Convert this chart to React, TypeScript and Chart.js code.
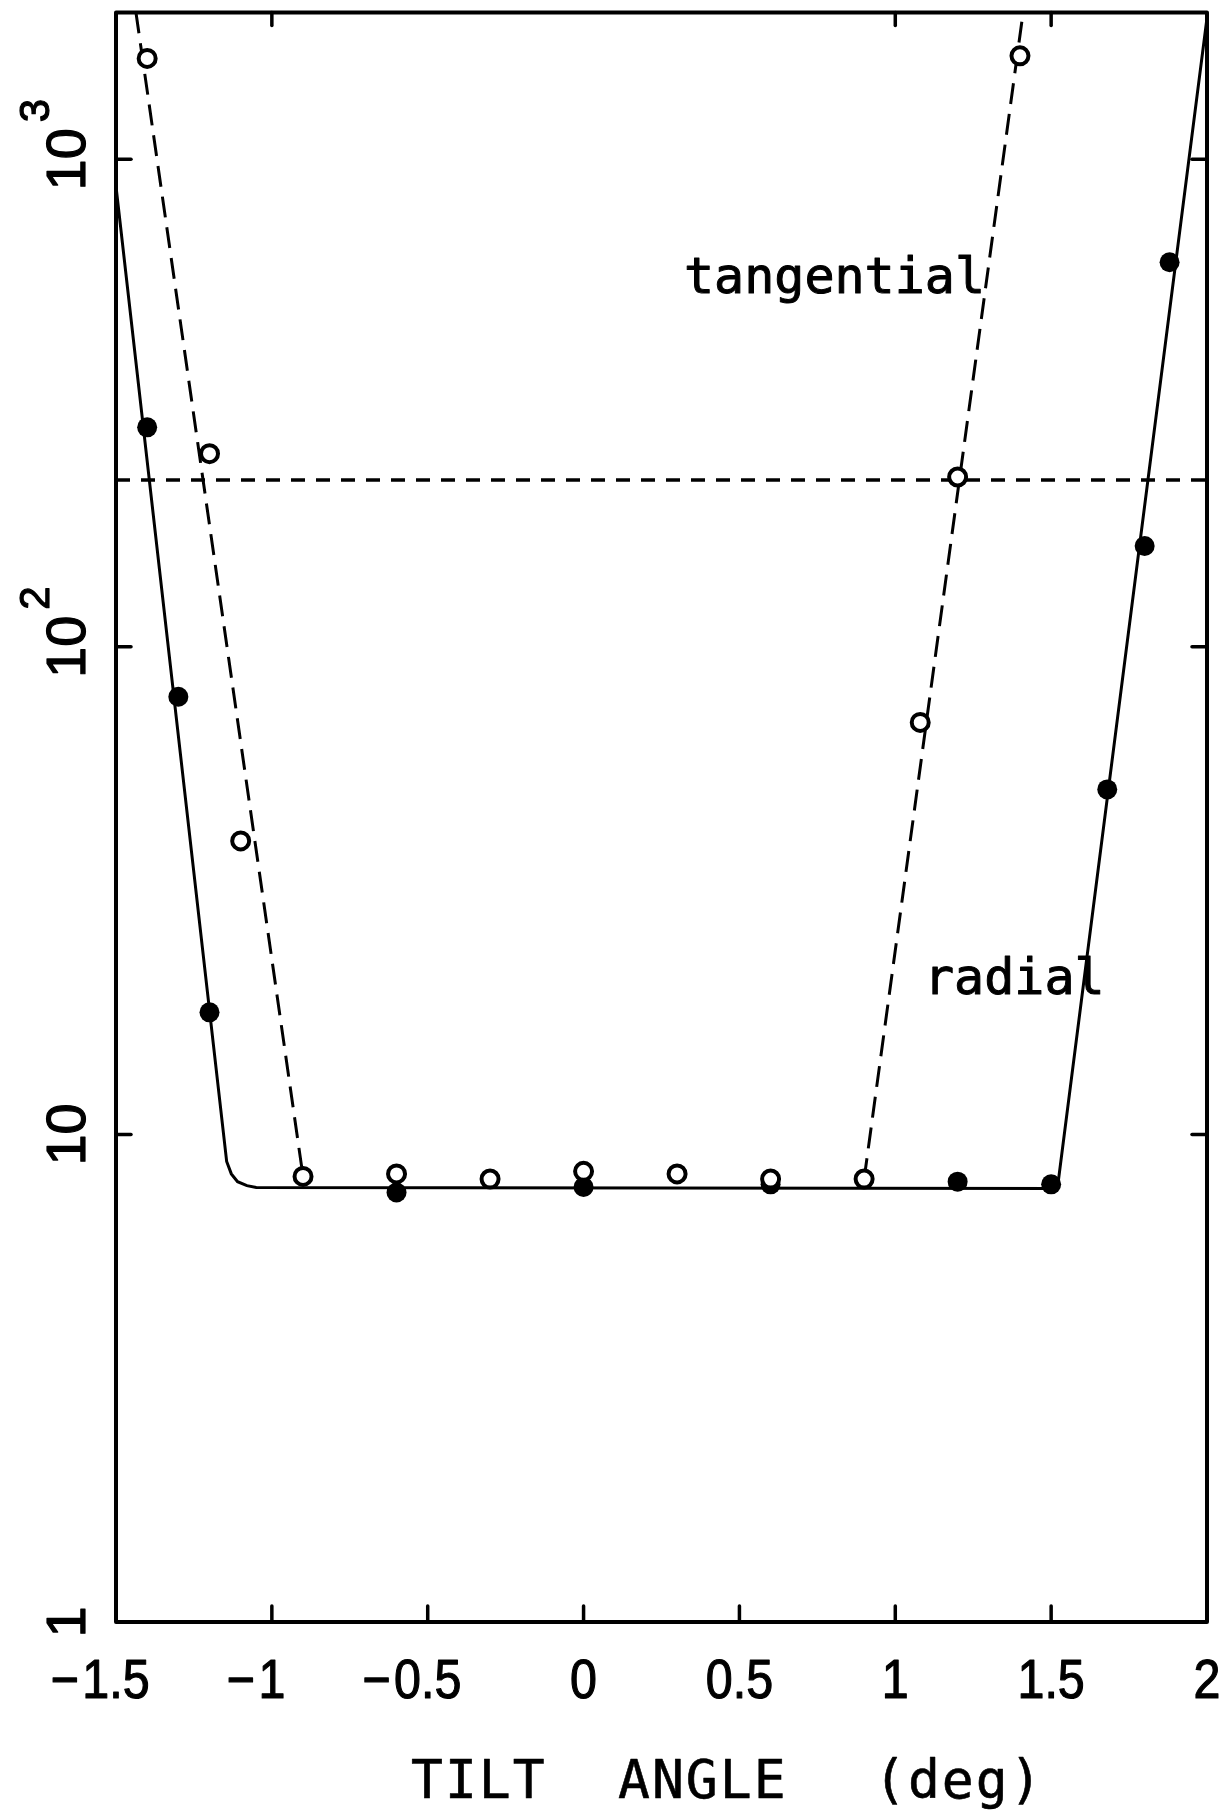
import React, { useEffect, useRef } from "react";
import { Chart, registerables } from "chart.js";

Chart.register(...registerables);

// Axis ticks
const tiltTicks = [-1.5, -1, -0.5, 0, 0.5, 1, 1.5, 2];
const tiltTickLabels = ["-1.5", "-1", "-0.5", "0", "0.5", "1", "1.5", "2"];
const bottomTickMarks = [-1, -0.5, 0, 0.5, 1, 1.5];
const topTickMarks = [-1, 1, 1.5];
const decadeTicks = [1, 10, 100, 1000];
const decadeBase = ["1", "10", "10", "10"];
const decadeExponent = ["", "", "2", "3"];

// Axis title, one word at a time
const titleWords = ["TILT", "ANGLE", "(deg)"];
const titleWordX = [411, 618, 874];

// Measured points: tangential (open circles)
const tangentialAngle = [-1.4, -1.2, -1.1, -0.9, -0.6, -0.3, 0, 0.3, 0.6, 0.9, 1.08, 1.2, 1.4];
const tangentialValue = [1610, 249, 40, 8.2, 8.3, 8.1, 8.4, 8.3, 8.1, 8.1, 70, 223, 1630];

// Measured points: radial (filled circles)
const radialAngle = [-1.4, -1.3, -1.2, -0.6, 0, 0.6, 1.2, 1.5, 1.68, 1.8, 1.88];
const radialValue = [282, 79, 17.8, 7.6, 7.8, 7.9, 8.0, 7.9, 51, 161, 615];

// Fitted curves
const radialFitAngle = [-1.5, -1.145, -1.13, -1.11, -1.08, -1.05, 1.52, 2.0];
const radialFitValue = [880, 8.8, 8.3, 8.0, 7.85, 7.78, 7.75, 1950];
const tangentialFitLeftAngle = [-1.436, -0.9];
const tangentialFitLeftValue = [2000, 8.2];
const tangentialFitRightAngle = [0.9, 1.41];
const tangentialFitRightValue = [8.1, 2000];

// Horizontal reference level
const thresholdAngle = [-1.5, 2.0];
const thresholdValue = [220, 220];

const toPoints = (xs: number[], ys: number[]) => xs.map((x, i) => ({ x, y: ys[i] }));

const framePlugin = {
  id: "plateFrame",
  afterDatasetsDraw(chart: any) {
    const { ctx, chartArea: a, scales } = chart;
    const xs = scales.x;
    const ys = scales.y;
    ctx.save();
    ctx.strokeStyle = "#000";
    ctx.fillStyle = "#000";
    ctx.lineCap = "round";
    ctx.lineJoin = "round";

    // frame
    ctx.lineWidth = 4;
    ctx.strokeRect(a.left, a.top, a.right - a.left, a.bottom - a.top);

    const seg = (x1: number, y1: number, x2: number, y2: number) => {
      ctx.beginPath();
      ctx.moveTo(x1, y1);
      ctx.lineTo(x2, y2);
      ctx.stroke();
    };

    // tick marks
    ctx.lineWidth = 3.5;
    bottomTickMarks.forEach((v) => {
      const px = xs.getPixelForValue(v);
      seg(px, a.bottom, px, a.bottom - 16);
    });
    topTickMarks.forEach((v) => {
      const px = xs.getPixelForValue(v);
      seg(px, a.top, px, a.top + 13);
    });
    decadeTicks.slice(1).forEach((v) => {
      const py = ys.getPixelForValue(v);
      seg(a.left, py, a.left + 15, py);
      seg(a.right, py, a.right - 15, py);
    });

    // heavy text: fill plus a thin outline
    const heavyText = (s: string, x: number, y: number, w: number) => {
      ctx.lineWidth = w;
      ctx.strokeText(s, x, y);
      ctx.fillText(s, x, y);
    };

    // x tick labels (minus sign hangs left of the centred number)
    const sx = 0.88;
    ctx.font = '55px "Liberation Sans"';
    ctx.textBaseline = "alphabetic";
    tiltTicks.forEach((v, i) => {
      const label = tiltTickLabels[i];
      const neg = label.startsWith("-");
      const body = neg ? label.slice(1) : label;
      const w = ctx.measureText(body).width * sx;
      const px = xs.getPixelForValue(v);
      ctx.save();
      ctx.translate(px - w / 2, 1698);
      ctx.scale(sx, 1);
      ctx.textAlign = "left";
      heavyText(body, 0, 0, 1.2);
      if (neg) {
        ctx.textAlign = "right";
        heavyText("\u2212", -4, 0, 1.2);
      }
      ctx.restore();
    });

    // y tick labels, rotated, with raised exponent
    decadeTicks.forEach((v, i) => {
      const py = ys.getPixelForValue(v);
      ctx.save();
      ctx.translate(85, py);
      ctx.rotate(-Math.PI / 2);
      ctx.font = '56px "Liberation Sans"';
      ctx.textAlign = "center";
      ctx.textBaseline = "alphabetic";
      const base = decadeBase[i];
      const bw = ctx.measureText(base).width;
      heavyText(base, 0, 0, 1.2);
      if (decadeExponent[i]) {
        ctx.font = '42px "Liberation Sans"';
        ctx.textAlign = "left";
        heavyText(decadeExponent[i], bw / 2 + 6, -36, 1.2);
      }
      ctx.restore();
    });

    // axis title
    ctx.font = '53px "DejaVu Sans Mono"';
    (ctx as any).letterSpacing = "2px";
    ctx.textAlign = "left";
    titleWords.forEach((word, i) => heavyText(word, titleWordX[i], 1798, 0.6));

    // curve labels
    ctx.font = '50px "DejaVu Sans Mono"';
    (ctx as any).letterSpacing = "0px";
    heavyText("tangential", 684, 293, 1.0);
    heavyText("radial", 924, 994, 1.0);

    ctx.restore();
  },
};

export default function App() {
  const ref = useRef<HTMLCanvasElement>(null);

  useEffect(() => {
    const canvas = ref.current;
    if (!canvas) return;
    const chart = new Chart(canvas, {
      type: "scatter",
      data: {
        datasets: [
          {
            label: "tangential",
            data: toPoints(tangentialAngle, tangentialValue),
            showLine: false,
            pointStyle: "circle",
            pointRadius: 8.5,
            pointBorderWidth: 4,
            pointBackgroundColor: "#fff",
            pointBorderColor: "#000",
            order: 1,
          },
          {
            label: "radial",
            data: toPoints(radialAngle, radialValue),
            showLine: false,
            pointStyle: "circle",
            pointRadius: 10,
            pointBorderWidth: 0,
            pointBackgroundColor: "#000",
            pointBorderColor: "#000",
            order: 2,
          },
          {
            label: "radial fit",
            data: toPoints(radialFitAngle, radialFitValue),
            showLine: true,
            pointRadius: 0,
            borderColor: "#000",
            borderWidth: 3,
            tension: 0,
            order: 3,
          },
          {
            label: "tangential fit (left)",
            data: toPoints(tangentialFitLeftAngle, tangentialFitLeftValue),
            showLine: true,
            pointRadius: 0,
            borderColor: "#000",
            borderWidth: 3,
            borderDash: [21, 10],
            order: 4,
          },
          {
            label: "tangential fit (right)",
            data: toPoints(tangentialFitRightAngle, tangentialFitRightValue),
            showLine: true,
            pointRadius: 0,
            borderColor: "#000",
            borderWidth: 3,
            borderDash: [21, 10],
            order: 5,
          },
          {
            label: "threshold",
            data: toPoints(thresholdAngle, thresholdValue),
            showLine: true,
            pointRadius: 0,
            borderColor: "#000",
            borderWidth: 3.5,
            borderDash: [14, 11],
            order: 6,
          },
        ],
      },
      options: {
        animation: false,
        responsive: false,
        devicePixelRatio: 1,
        layout: { padding: { left: 116, top: 10, right: 17, bottom: 195 } },
        plugins: {
          legend: { display: false },
          tooltip: { enabled: false },
          title: { display: false },
        },
        scales: {
          x: { type: "linear", min: -1.5, max: 2, display: false },
          y: { type: "logarithmic", min: 1, max: 2000, display: false },
        },
      },
      plugins: [framePlugin],
    });
    return () => chart.destroy();
  }, []);

  return (
    <div style={{ position: "absolute", left: 0, top: 0, width: 1224, height: 1817, background: "#fff" }}>
      <canvas ref={ref} width={1224} height={1817} style={{ display: "block", width: 1224, height: 1817 }} />
    </div>
  );
}
